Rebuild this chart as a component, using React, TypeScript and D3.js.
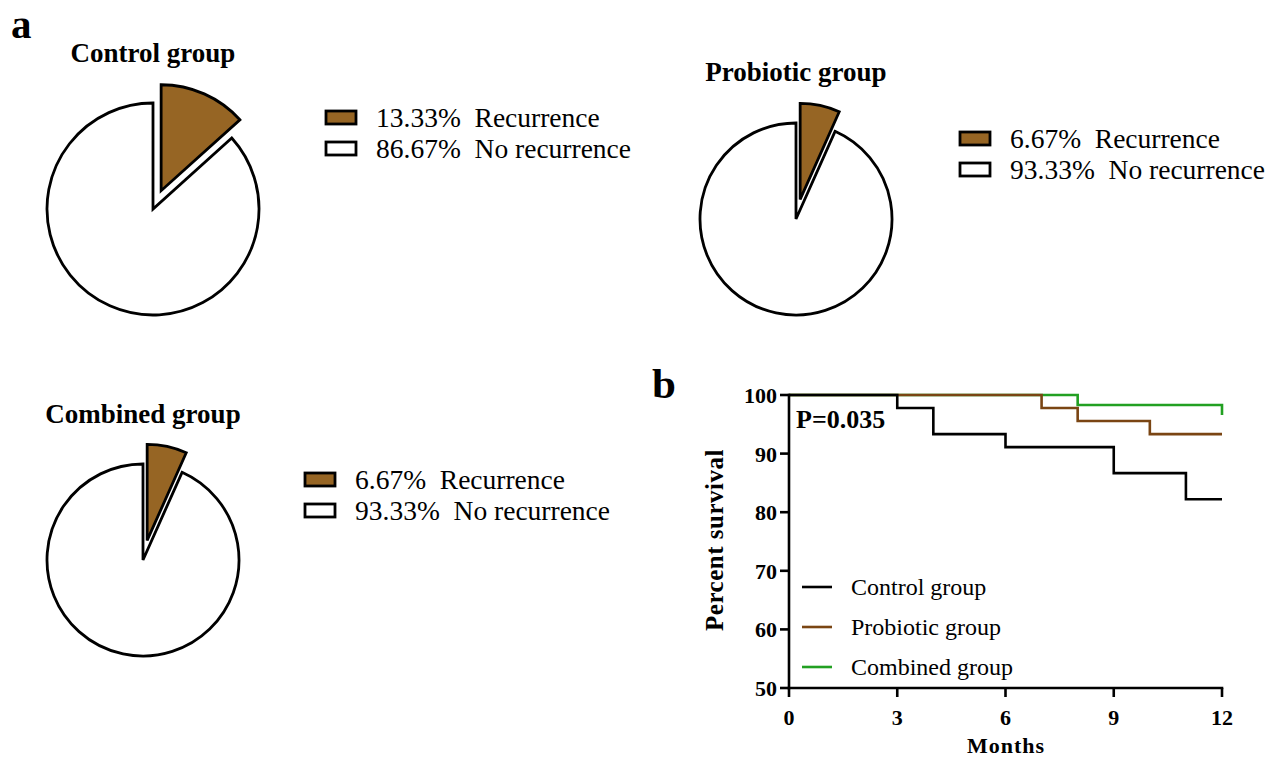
import React from "react";
import * as d3 from "d3";

// ---------- Data ----------
const pieGroups = ["Control group", "Probiotic group", "Combined group"];
const recurrencePct = [13.33, 6.67, 6.67];
const noRecurrencePct = [86.67, 93.33, 93.33];
const pieLabels = ["Recurrence", "No recurrence"];

const seriesNames = ["Control group", "Probiotic group", "Combined group"];
const controlTimes = [0, 3, 4, 6, 9, 11, 12];
const controlSurv = [100, 97.78, 93.33, 91.11, 86.67, 82.22, 82.22];
const probioticTimes = [0, 7, 8, 10, 12];
const probioticSurv = [100, 97.78, 95.56, 93.33, 93.33];
const combinedTimes = [0, 8, 12, 12];
const combinedSurv = [100, 98.3, 98.3, 96.6];
const xTicks = [0, 3, 6, 9, 12];
const yTicks = [50, 60, 70, 80, 90, 100];
const pValueLabel = "P=0.035";

// ---------- Styles ----------
const FONT = "'Liberation Serif', 'Times New Roman', Times, serif";
const BROWN_FILL = "#966524";
const LINE_COLORS = ["#000000", "#7a4513", "#22a022"];

const pieLayouts = [
  { cx: 153, cy: 209, r: 106, titleX: 153, titleY: 62, legX: 326, legY: 118 },
  { cx: 796, cy: 219, r: 96, titleX: 796, titleY: 81, legX: 960, legY: 139 },
  { cx: 143, cy: 560, r: 96, titleX: 143, titleY: 423, legX: 305, legY: 480 },
];

const serif = (size: number, bold = false, extra: React.CSSProperties = {}) => ({
  fontFamily: FONT,
  fontSize: size,
  fontWeight: bold ? 700 : 400,
  ...extra,
});

function Pie({ idx }: { idx: number }) {
  const L = pieLayouts[idx];
  const values = [recurrencePct[idx], noRecurrencePct[idx]];
  const pie = d3.pie<number>().sort(null).value((d) => d)(values);
  const arc = d3.arc<d3.PieArcDatum<number>>().innerRadius(0).outerRadius(L.r);
  const explode = 20;
  const fills = [BROWN_FILL, "#ffffff"];
  return (
    <g>
      <text x={L.titleX} y={L.titleY} textAnchor="middle" style={serif(27, true)}>
        {pieGroups[idx]}
      </text>
      {pie
        .slice()
        .reverse()
        .map((p, i) => {
          const k = pie.indexOf(p);
          const mid = (p.startAngle + p.endAngle) / 2;
          const dx = k === 0 ? Math.sin(mid) * explode : 0;
          const dy = k === 0 ? -Math.cos(mid) * explode : 0;
          return (
            <path
              key={i}
              d={arc(p) || ""}
              transform={`translate(${L.cx + dx},${L.cy + dy})`}
              fill={fills[k]}
              stroke="#000"
              strokeWidth={2.8}
              strokeLinejoin="miter"
            />
          );
        })}
      {values.map((v, k) => (
        <g key={k} transform={`translate(${L.legX},${L.legY + k * 31})`}>
          <rect x={0} y={-7} width={30} height={13} fill={fills[k]} stroke="#000" strokeWidth={2.8} />
          <text x={50} y={9} style={serif(27.5, false, { whiteSpace: "pre" })}>
            {`${v.toFixed(2)}%  ${pieLabels[k]}`}
          </text>
        </g>
      ))}
    </g>
  );
}

function Survival() {
  const x = d3.scaleLinear().domain([0, 12]).range([789, 1222]);
  const y = d3.scaleLinear().domain([50, 100]).range([688, 395]);
  const line = d3
    .line<[number, number]>()
    .x((d) => x(d[0]))
    .y((d) => y(d[1]))
    .curve(d3.curveStepAfter);
  const series: [number, number][][] = [
    controlTimes.map((t, i) => [t, controlSurv[i]]),
    probioticTimes.map((t, i) => [t, probioticSurv[i]]),
    combinedTimes.map((t, i) => [t, combinedSurv[i]]),
  ];
  const order = [2, 1, 0];
  return (
    <g>
      {order.map((i) => (
        <path key={i} d={line(series[i]) || ""} fill="none" stroke={LINE_COLORS[i]} strokeWidth={2.6} />
      ))}
      {/* axes */}
      <line x1={x(0)} x2={x(0)} y1={y(100) - 1.3} y2={y(50) + 1.3} stroke="#000" strokeWidth={2.6} />
      <line x1={x(0) - 1.3} x2={x(12) + 1.3} y1={y(50)} y2={y(50)} stroke="#000" strokeWidth={2.6} />
      {yTicks.map((t) => (
        <g key={t}>
          <line x1={x(0) - 9} x2={x(0)} y1={y(t)} y2={y(t)} stroke="#000" strokeWidth={2.6} />
          <text x={x(0) - 12} y={y(t) + 8} textAnchor="end" style={serif(22, true)}>
            {t}
          </text>
        </g>
      ))}
      {xTicks.map((t) => (
        <g key={t}>
          <line x1={x(t)} x2={x(t)} y1={y(50)} y2={y(50) + 9} stroke="#000" strokeWidth={2.6} />
          <text x={x(t)} y={725} textAnchor="middle" style={serif(22, true)}>
            {t}
          </text>
        </g>
      ))}
      <text x={1006} y={753} textAnchor="middle" style={serif(22, true, { letterSpacing: 1 })}>
        Months
      </text>
      <text
        transform={`translate(723,540) rotate(-90)`}
        textAnchor="middle"
        style={serif(25, true, { letterSpacing: 0.5 })}
      >
        Percent survival
      </text>
      <text x={796} y={428} style={serif(26, true)}>
        {pValueLabel}
      </text>
      {seriesNames.map((n, i) => (
        <g key={n} transform={`translate(802,${587 + i * 40})`}>
          <line x1={0} x2={30} y1={0} y2={0} stroke={LINE_COLORS[i]} strokeWidth={2.6} />
          <text x={49} y={8} style={serif(24)}>
            {n}
          </text>
        </g>
      ))}
    </g>
  );
}

export default function App() {
  return (
    <svg
      width={1275}
      height={759}
      style={{ position: "absolute", left: 0, top: 0, background: "#fff" }}
    >
      <rect width={1275} height={759} fill="#fff" />
      <text x={11} y={38} style={serif(41, true)}>
        a
      </text>
      <text x={652} y={398} style={serif(43, true)}>
        b
      </text>
      <Pie idx={0} />
      <Pie idx={1} />
      <Pie idx={2} />
      <Survival />
    </svg>
  );
}
